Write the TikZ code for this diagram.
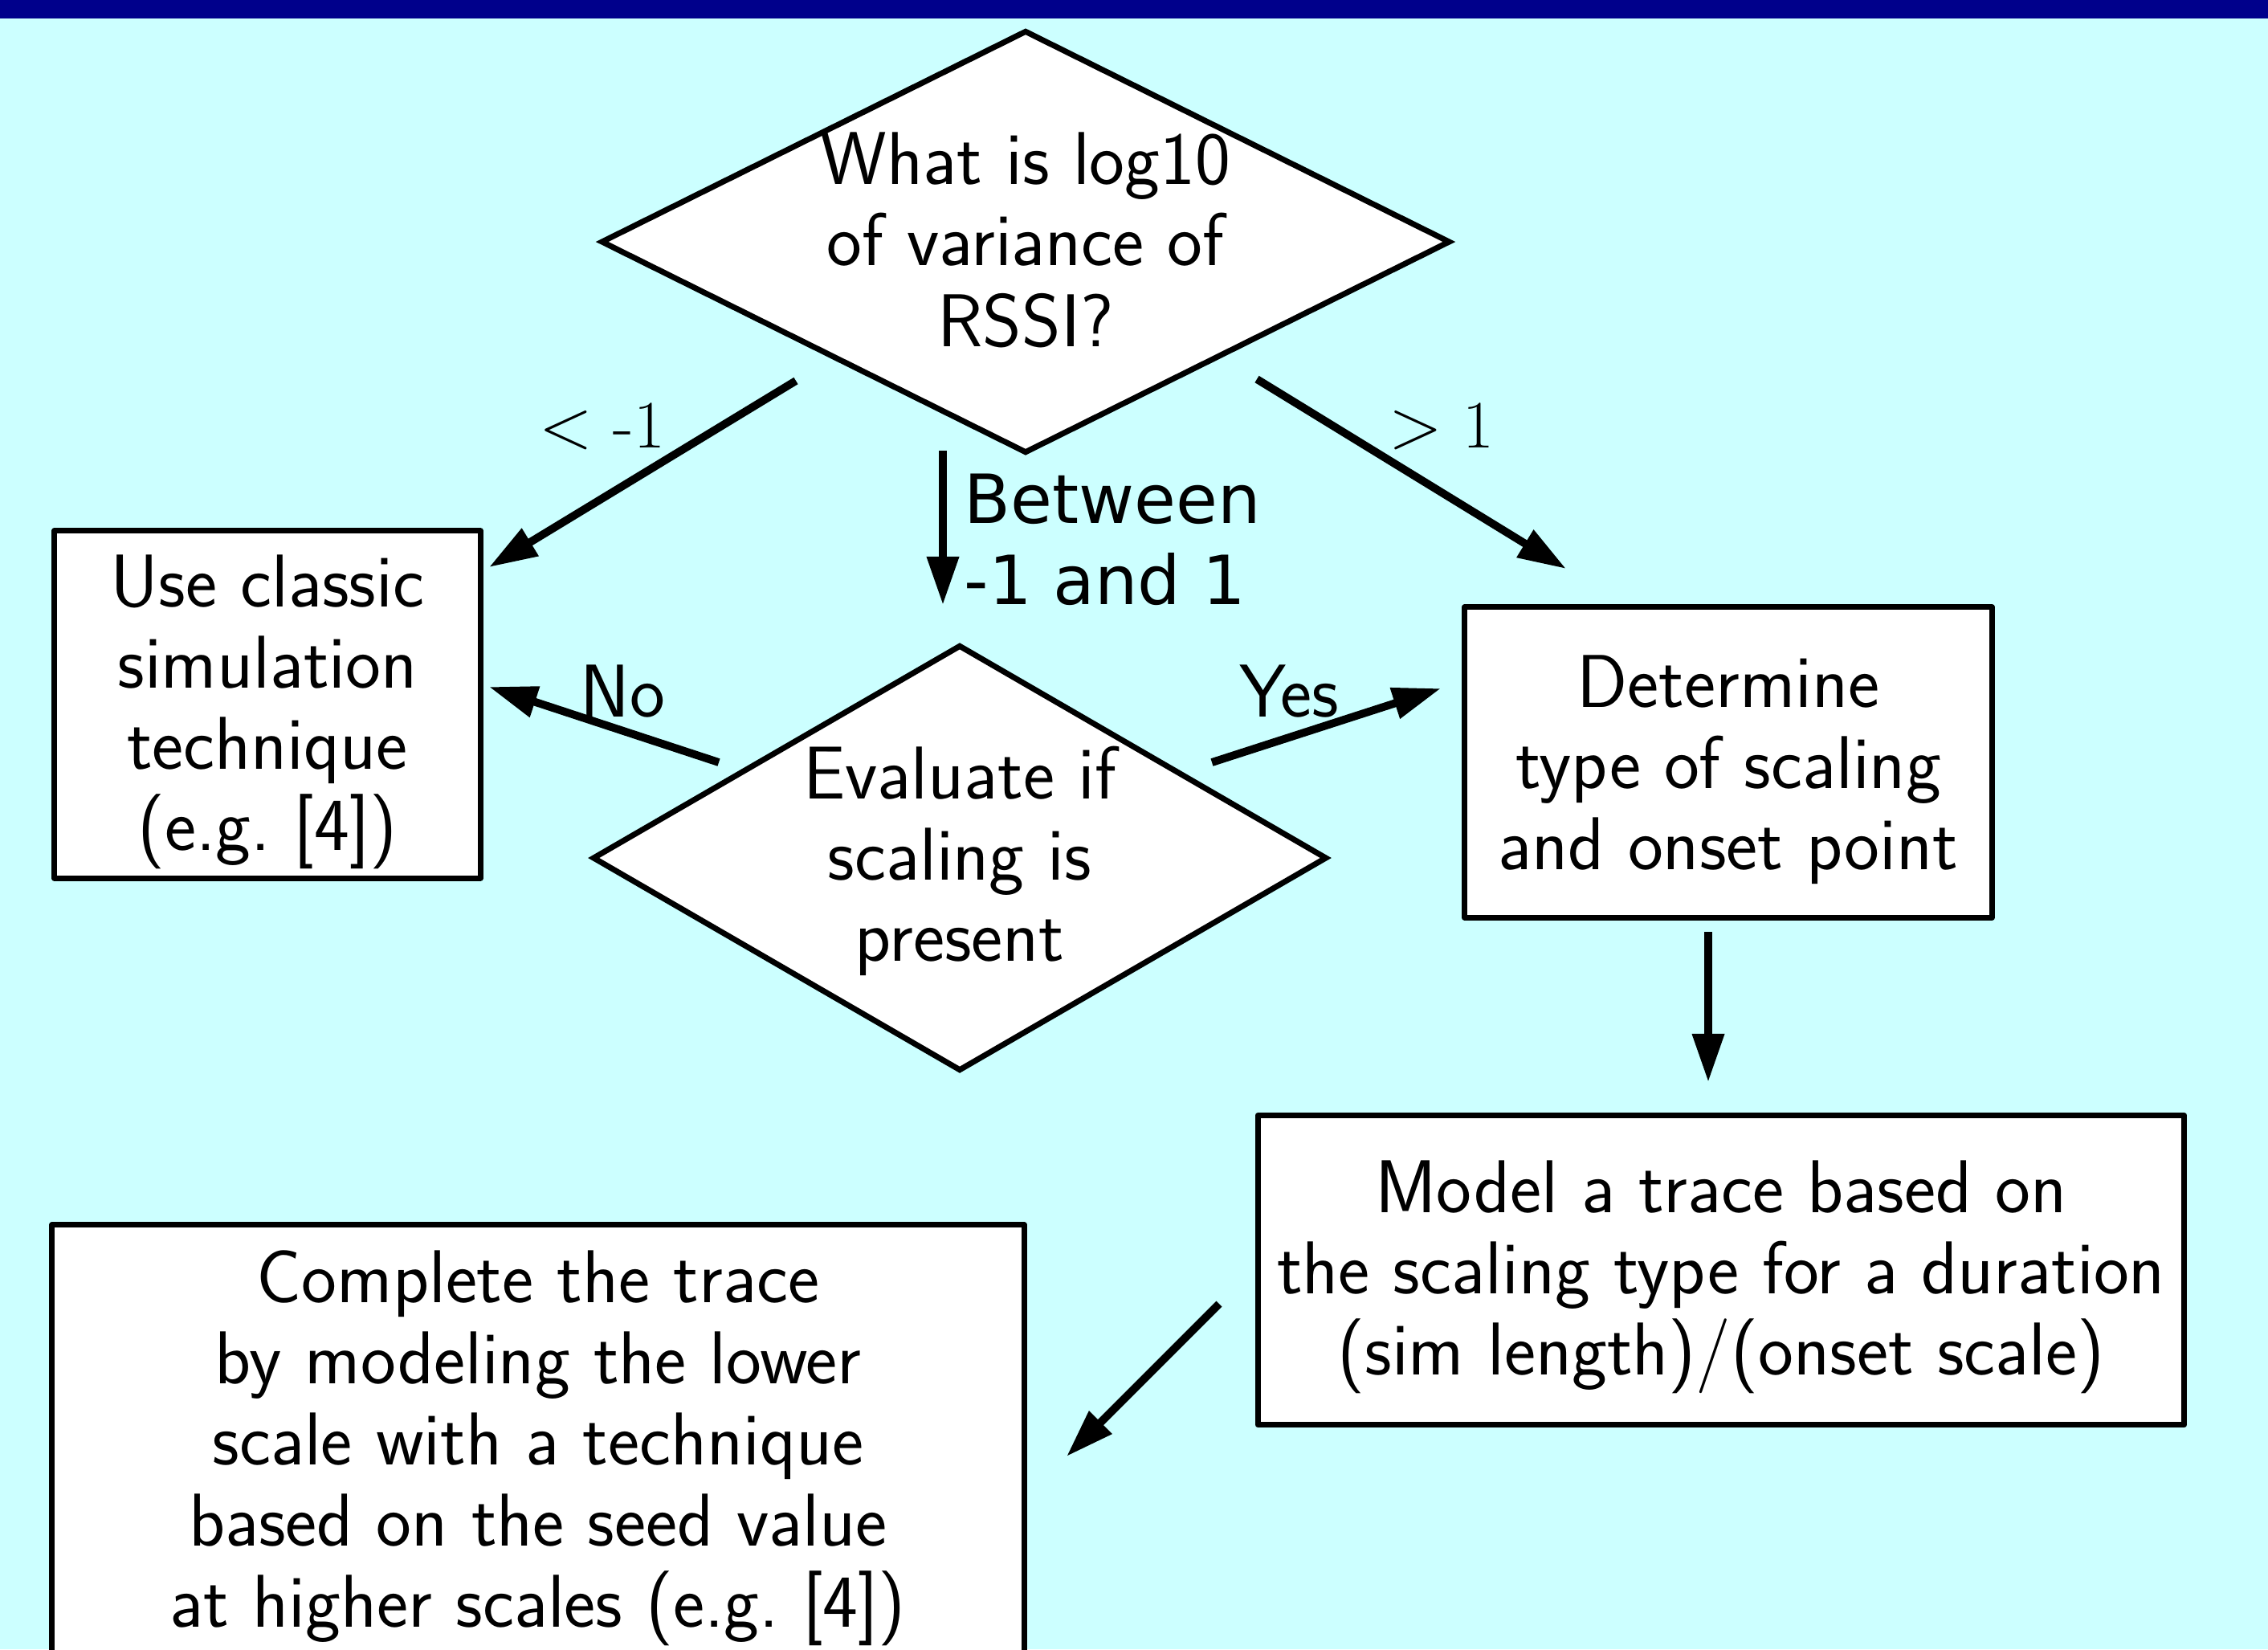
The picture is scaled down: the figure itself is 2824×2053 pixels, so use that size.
\documentclass[tikz,border=0pt]{standalone}
\usepackage{fontspec}
\newfontfamily\labelfont{DejaVu Sans}
\usetikzlibrary{shapes.geometric,arrows.meta}
\definecolor{bgcyan}{RGB}{204,255,255}
\definecolor{barblue}{RGB}{0,0,139}
\tikzset{
  txt/.style={font=\fontsize{26.5}{28.7}\selectfont\sffamily, align=center, inner sep=0pt},
  boxtxt/.style={txt, yshift=-0.09cm},
  stepbox/.style={draw, fill=white, line width=2pt, line join=round, inner sep=0pt},
  decision/.style={diamond, draw, fill=white, line width=2pt, inner sep=0pt},
  flow/.style={line width=2.8pt, -{Triangle[length=0.6cm,width=0.38cm]}},
  mathlbl/.style={font=\fontsize{24}{28.8}\selectfont\rmfamily, anchor=base, inner sep=0pt},
}
\begin{document}
\begin{tikzpicture}[x=0.01cm, y=-0.01cm]
	\useasboundingbox (0,0) rectangle (2824,2053);
	\clip (0,0) rectangle (2824,2053);
	\fill[bgcyan] (0,0) rectangle (2824,2053);
	\fill[barblue] (0,0) rectangle (2824,23);

	\node[decision, minimum width=10.57cm, minimum height=5.26cm] (q) at (1277,301) {};
	\node[txt, yshift=0.02cm] (qt) at (q) {What is log10\\of variance of\\RSSI?};
	\node[decision, minimum width=9.14cm, minimum height=5.30cm] (ev) at (1195,1068) {};
	\node[txt, yshift=-0.04cm] (evt) at (ev) {Evaluate if\\scaling is\\present};

	\node[stepbox, minimum width=5.30cm,  minimum height=4.32cm] (classic)  at (333,877)   {};
	\node[boxtxt] (classict) at (classic) {Use classic\\simulation\\technique\\(e.g.\ [4])};
	\node[stepbox, minimum width=6.56cm,  minimum height=3.86cm] (onset)    at (2152,949)  {};
	\node[boxtxt] (onsett) at (onset) {Determine\\type of scaling\\and onset point};
	\node[stepbox, minimum width=11.53cm, minimum height=3.85cm] (model)    at (2143,1581) {};
	\node[boxtxt] (modelt) at (model) {Model a trace based on\\the scaling type for a duration\\(sim length)/(onset scale)};
	\node[stepbox, minimum width=12.10cm, minimum height=5.38cm] (complete) at (670,1794)  {};
	\node[boxtxt] (completet) at (complete) {Complete the trace\\by modeling the lower\\scale with a technique\\based on the seed value\\at higher scales (e.g.\ [4])};

	\coordinate (lt0)  at (991,474);   \coordinate (lt1)  at (609,706);
	\coordinate (gt0)  at (1565,472);  \coordinate (gt1)  at (1950,708);
	\coordinate (bw0)  at (1174,561);  \coordinate (bw1)  at (1174,753);
	\coordinate (no0)  at (895,949);   \coordinate (no1)  at (609,855);
	\coordinate (yes0) at (1509,949);  \coordinate (yes1) at (1794,857);
	\coordinate (dn0)  at (2127,1160); \coordinate (dn1)  at (2127,1347);
	\coordinate (dg0)  at (1518,1623); \coordinate (dg1)  at (1328,1813);

	\draw[flow] (lt0) -- (lt1);
	\draw[flow] (gt0) -- (gt1);
	\draw[flow] (bw0) -- (bw1);
	\draw[flow] (no0) -- (no1);
	\draw[flow] (yes0) -- (yes1);
	\draw[flow] (dn0) -- (dn1);
	\draw[flow] (dg0) -- (dg1);

	\node[mathlbl] (ltl) at (750,557) {$<$ -1};
	\node[mathlbl] (gtl) at (1795,557) {$>$ 1};
	\node[txt, anchor=base] (nol) at (775,892) {No};
	\node[txt, anchor=base] (yesl) at (1605,892) {Yes};
	\node[txt, font=\fontsize{24}{28.7}\selectfont\labelfont, align=left, anchor=west] (bwl) at (1200,672) {Between\\-1 and 1};
\end{tikzpicture}
\end{document}
